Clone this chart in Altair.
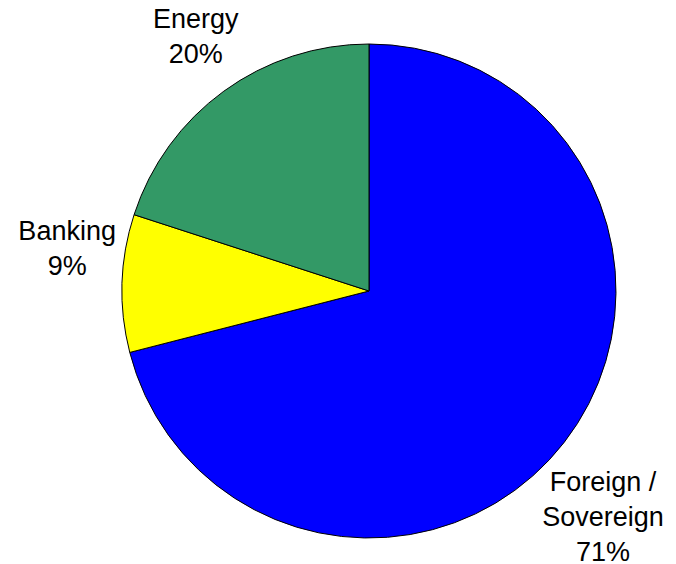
import altair as alt
import pandas as pd

categories = ["Foreign / Sovereign", "Banking", "Energy"]
label_lines = ["Foreign /\nSovereign", "Banking", "Energy"]
shares = [71, 9, 20]
colors = ["#0000FF", "#FFFF00", "#339966"]

df = pd.DataFrame({
    "category": categories,
    "label": label_lines,
    "share": shares,
    "order": list(range(len(categories))),
})
total = sum(shares)

base = alt.Chart(df).transform_window(
    cum="sum(share)", sort=[alt.SortField("order")], frame=[None, 0]
).transform_calculate(
    start="datum.cum - datum.share",
    mid="datum.cum - datum.share / 2",
    text="datum.label + '\\n' + datum.share + '%'",
)

theta_scale = alt.Scale(domain=[0, total])

pie = base.mark_arc(stroke="black", strokeWidth=1, radius=247).encode(
    theta=alt.Theta("start:Q", scale=theta_scale, stack=None),
    theta2="cum:Q",
    color=alt.Color("category:N", scale=alt.Scale(domain=categories, range=colors), legend=None),
)

offsets = {"Foreign / Sovereign": (-3, 8), "Banking": (-2, -50), "Energy": (3, -28)}
layers = [pie]
for cat in categories:
    dx, dy = offsets[cat]
    layers.append(
        base.transform_filter(alt.datum.category == cat).mark_text(
            radius=300, dx=dx, dy=dy, font="Liberation Sans", fontSize=27,
            lineHeight=35, lineBreak="\n", align="center", baseline="middle", color="black",
        ).encode(
            theta=alt.Theta("mid:Q", scale=theta_scale, stack=None),
            text="text:N",
        )
    )

chart = alt.layer(*layers).properties(
    width=614, height=546,
    autosize=alt.AutoSizeParams(type="none"),
    padding={"left": 62, "top": 18, "right": 0, "bottom": 0},
    background="white",
).configure_view(stroke=None)

chart.save("out.html", embed_options={"renderer": "svg", "actions": False})
